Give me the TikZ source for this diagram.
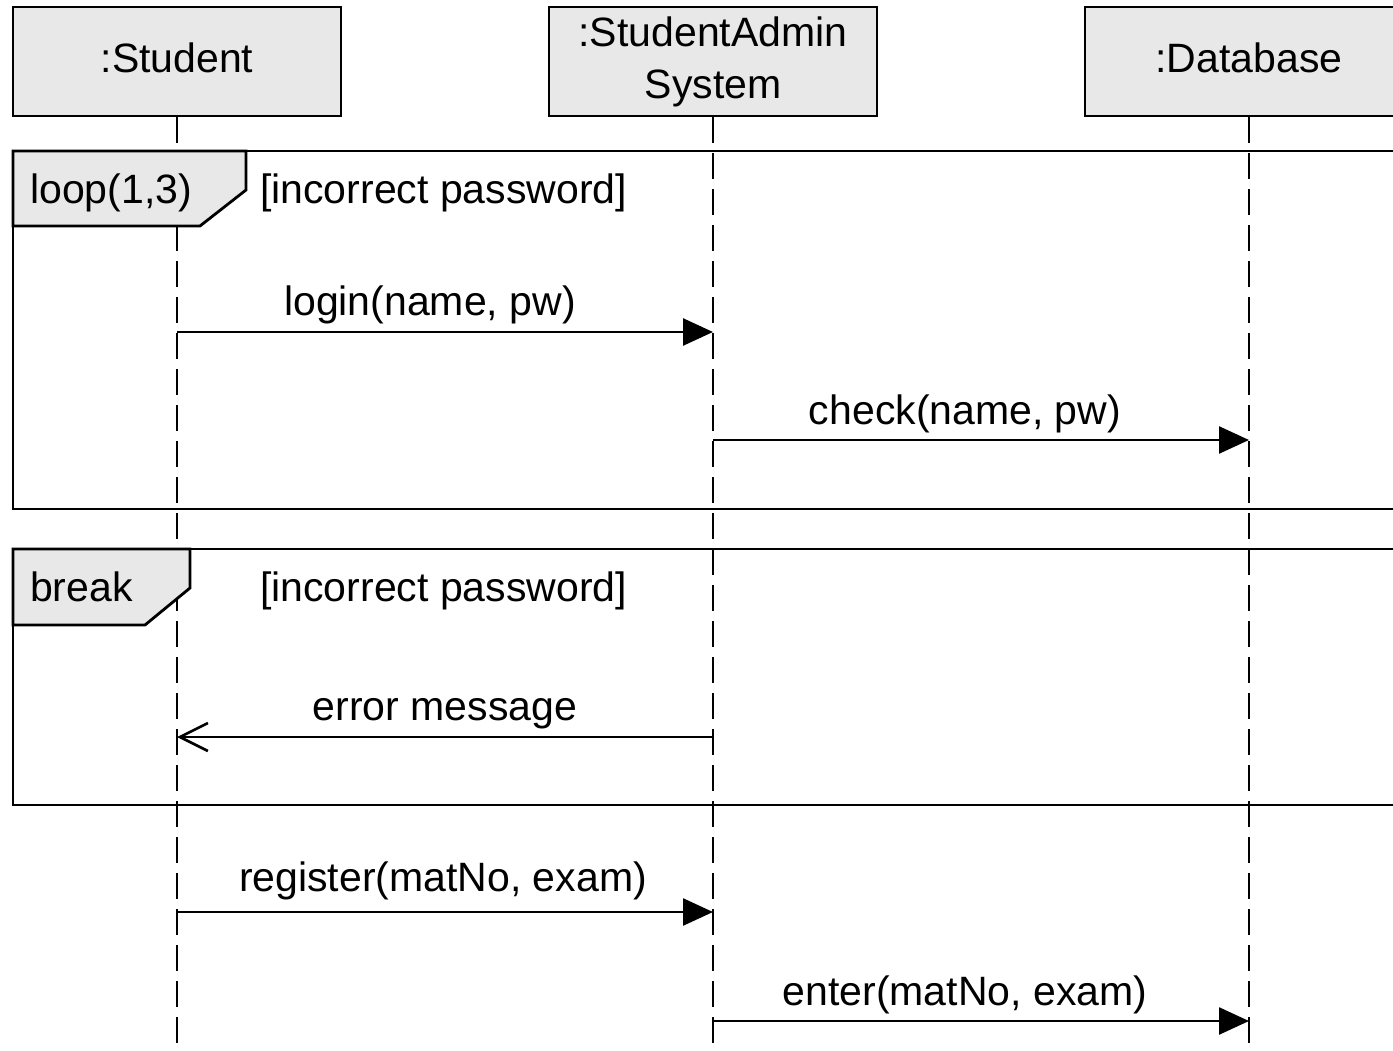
\documentclass[tikz,border=0pt]{standalone}
\usepackage{fontspec}
\setmainfont{Liberation Sans}
\usetikzlibrary{arrows.meta}
\definecolor{headgray}{HTML}{E8E8E8}
\tikzset{
  head/.style={draw, fill=headgray, line width=2.8pt, minimum width=328pt, minimum height=109pt,
    inner sep=0pt, align=center, font=\fontsize{41}{52}\selectfont},
  onehead/.style={head, text depth=8pt},
  lifeline/.style={line width=2.6pt, dash pattern=on 26pt off 10pt},
  frame/.style={line width=2.8pt},
  tag/.style={draw, fill=headgray, line width=2.8pt, line join=miter},
  txt/.style={font=\fontsize{41}{52}\selectfont, inner sep=0pt},
  msg/.style={line width=2.6pt, -{Triangle[length=30pt,width=27pt]}},
  reply/.style={line width=2.6pt, -{Straight Barb[length=28pt,width=28pt]}},
  lbl/.style={txt, midway, anchor=base, yshift=16pt},
}
\begin{document}
\begin{tikzpicture}[x=1pt,y=-1pt]
\useasboundingbox (0,0) rectangle (1393,1051);
\clip (0,0) rectangle (1393,1051);

% heads
\node[onehead] (st) at (177,61.5) {:Student};
\node[head] (sa) at (713,61.5) {:StudentAdmin\\System};
\node[onehead] (db) at (1249,61.5) {:Database};

% lifeline ends
\coordinate (stEnd) at (177,1070);
\coordinate (saEnd) at (713,1070);
\coordinate (dbEnd) at (1249,1070);
\draw[lifeline] (st.south) -- (stEnd);
\draw[lifeline] (sa.south) -- (saEnd);
\draw[lifeline] (db.south) -- (dbEnd);

% loop fragment
\draw[frame] (13,151) rectangle (1430,509);
\draw[tag] (13,151) -- (246,151) -- (246,190) -- (200,226) -- (13,226) -- cycle;
\node[txt, anchor=base west] (loopT) at (30,204) {loop(1,3)};
\node[txt, anchor=base west] (loopG) at (260,204) {[incorrect password]};

% break fragment
\draw[frame] (13,549) rectangle (1430,805);
\draw[tag] (13,549) -- (190,549) -- (190,588) -- (145,625) -- (13,625) -- cycle;
\node[txt, anchor=base west] (breakT) at (30,601) {break};
\node[txt, anchor=base west] (breakG) at (260,601) {[incorrect password]};

% message points
\coordinate (st1) at (177,332);  \coordinate (sa1) at (713,332);
\coordinate (sa2) at (713,440);  \coordinate (db2) at (1249,440);
\coordinate (sa3) at (713,737);  \coordinate (st3) at (177,737);
\coordinate (st4) at (177,912);  \coordinate (sa4) at (713,912);
\coordinate (sa5) at (713,1021); \coordinate (db5) at (1249,1021);

\draw[msg] (st1) -- (sa1) node[lbl, xshift=-15pt] {login(name, pw)};
\draw[msg] (sa2) -- (db2) node[lbl, xshift=-16pt] {check(name, pw)};
\draw[reply] (sa3) -- (st3) node[lbl, yshift=1pt] {error message};
\draw[msg] (st4) -- (sa4) node[lbl, yshift=5pt, xshift=-2pt] {register(matNo, exam)};
\draw[msg] (sa5) -- (db5) node[lbl, xshift=-16pt] {enter(matNo, exam)};
\end{tikzpicture}
\end{document}
